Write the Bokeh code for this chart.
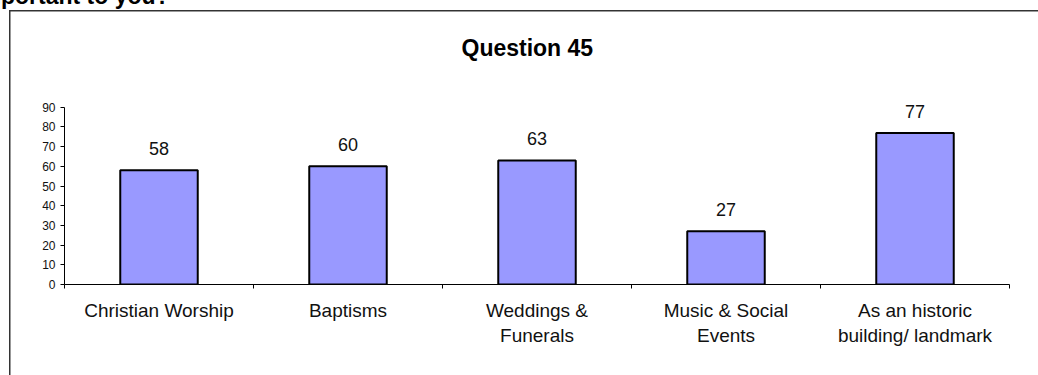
from bokeh.plotting import figure
from bokeh.models import (Range1d, FixedTicker, LinearAxis, LabelSet, Title,
                          ColumnDataSource)
from bokeh.core.properties import value
from bokeh.embed import file_html
from bokeh.resources import INLINE

# ---- data ----
categories = ["Christian Worship", "Baptisms", "Weddings &\nFunerals",
              "Music & Social\nEvents", "As an historic\nbuilding/ landmark"]
values = [58, 60, 63, 27, 77]
y_ticks = [0, 10, 20, 30, 40, 50, 60, 70, 80, 90]
title_text = "Question 45"
heading_text = "mportant to you?"

FONT = "Liberation Sans"
W, H = 1038, 395

n = len(categories)
centers = [i + 0.5 for i in range(n)]
bounds = [float(i) for i in range(n + 1)]

p = figure(width=W, height=H, x_range=Range1d(0, n), y_range=Range1d(0, 97),
           output_backend="svg", toolbar_location=None,
           x_axis_type=None, y_axis_type=None,
           min_border_left=64, min_border_right=29,
           min_border_top=113, min_border_bottom=91)
p.styles = {
    "margin": "-20px 0px -20px 0px",
    "background-image": "linear-gradient(#333333,#333333), linear-gradient(#333333,#333333)",
    "background-size": "1.5px 100%, 100% 1.5px",
    "background-position": "9px 30px, 9px 30px",
    "background-repeat": "no-repeat",
}
p.grid.visible = False
p.outline_line_color = None
p.background_fill_color = None
p.border_fill_color = None

# cropped heading (outer title)
p.title.text = heading_text
p.title.align = "left"
p.title.offset = -84
p.title.standoff = -16
p.title.text_font = FONT
p.title.text_font_size = "23px"
p.title.text_font_style = "bold"
p.title.text_color = "black"

# chart title (inner title)
p.add_layout(Title(text=title_text, align="left", offset=397, standoff=65,
                   text_font=FONT, text_font_size="23px", text_font_style="bold",
                   text_color="black"), "above")

# y axis
yaxis = LinearAxis(ticker=FixedTicker(ticks=y_ticks, minor_ticks=[]),
                   bounds=(min(y_ticks), max(y_ticks)),
                   major_tick_out=4, major_tick_in=0,
                   minor_tick_out=0, minor_tick_in=0,
                   axis_line_color="black", major_tick_line_color="black",
                   major_label_text_font=FONT, major_label_text_font_size="12px",
                   major_label_text_color="#111111", major_label_standoff=5)
p.add_layout(yaxis, "left")

# x axis: labels at centers, ticks at category boundaries
xaxis = LinearAxis(ticker=FixedTicker(ticks=centers, minor_ticks=bounds),
                   major_tick_out=0, major_tick_in=0,
                   minor_tick_out=4, minor_tick_in=0,
                   axis_line_color="black", minor_tick_line_color="black",
                   major_label_overrides={c: lab for c, lab in zip(centers, categories)},
                   major_label_text_font=FONT, major_label_text_font_size="19px",
                   major_label_text_color="#111111", major_label_standoff=11)
p.add_layout(xaxis, "below")

src = ColumnDataSource(dict(x=centers, top=values, label=[str(v) for v in values]))
p.vbar(x="x", top="top", width=0.41, source=src, fill_color="#9999FF",
       line_color="black", line_width=2)

labels = LabelSet(x="x", y="top", text="label", source=src, y_offset=15,
                  text_align="center", text_baseline="alphabetic",
                  text_font=value(FONT), text_font_size=value("18px"),
                  text_color="#111111")
p.add_layout(labels)

open("out.html", "w").write(file_html(p, INLINE))
